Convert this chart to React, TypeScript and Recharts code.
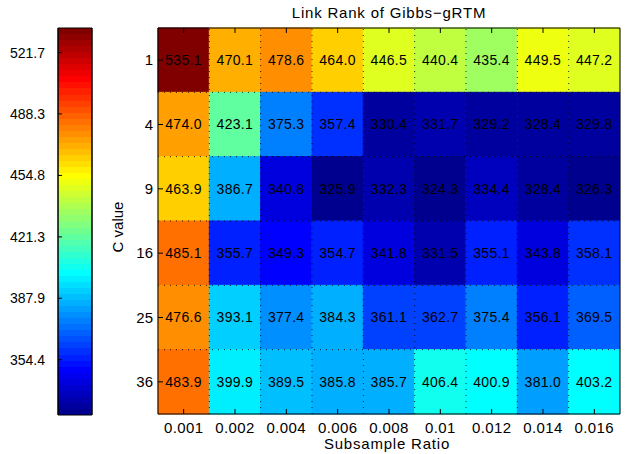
import React from "react";
import { Bar, BarChart, Cell, LabelList, ReferenceLine, XAxis, YAxis } from "recharts";

const ratios = ["0.001", "0.002", "0.004", "0.006", "0.008", "0.01", "0.012", "0.014", "0.016"];
const cValues = ["1", "4", "9", "16", "25", "36"];

const rankC1 = [535.1, 470.1, 478.6, 464.0, 446.5, 440.4, 435.4, 449.5, 447.2];
const rankC4 = [474.0, 423.1, 375.3, 357.4, 330.4, 331.7, 329.2, 328.4, 329.8];
const rankC9 = [463.9, 386.7, 340.8, 325.9, 332.3, 324.3, 334.4, 328.4, 326.3];
const rankC16 = [485.1, 355.7, 349.3, 354.7, 341.8, 331.5, 355.1, 343.8, 358.1];
const rankC25 = [476.6, 393.1, 377.4, 384.3, 361.1, 362.7, 375.4, 356.1, 369.5];
const rankC36 = [483.9, 399.9, 389.5, 385.8, 385.7, 406.4, 400.9, 381.0, 403.2];
const rankRows = [rankC1, rankC4, rankC9, rankC16, rankC25, rankC36];

const colorTicks = [354.4, 387.9, 421.3, 454.8, 488.3, 521.7];
const cMin = 324.3;
const cMax = 535.1;

const FONT = "'Liberation Sans', Arial, Helvetica, sans-serif";

// matlab jet(64), i = 1..64
function jet(i: number) {
  const r = i <= 24 ? 0 : i <= 40 ? (i - 24) / 16 : i <= 56 ? 1 : (72 - i) / 16;
  const g = i <= 8 ? 0 : i <= 24 ? (i - 8) / 16 : i <= 40 ? 1 : i <= 56 ? (56 - i) / 16 : 0;
  const b = i <= 8 ? (i + 8) / 16 : i <= 24 ? 1 : i <= 40 ? (40 - i) / 16 : 0;
  const h = (v: number) => Math.round(v * 255);
  return `rgb(${h(r)},${h(g)},${h(b)})`;
}

function colorFor(v: number) {
  const i = Math.min(64, Math.floor(((v - cMin) / (cMax - cMin)) * 64) + 1);
  return jet(Math.max(1, i));
}

const table = ratios.map((ratio, i) => {
  const row: Record<string, string | number> = { ratio };
  rankRows.forEach((vals, j) => {
    row[`c${j}`] = 1;
    row[`v${j}`] = vals[i];
  });
  return row;
});

const rowTicks = cValues.map((_, j) => j + 0.5);

const BottomTick = ({ x, y, payload }: any) => (
  <g>
    <line x1={x} x2={x} y1={y} y2={y - 5} stroke="#000" />
    <text x={x} y={y + 19} textAnchor="middle" fontSize={15} fill="#000" style={{ letterSpacing: 0.4 }}>
      {payload.value}
    </text>
  </g>
);

const TopTick = ({ x, y }: any) => <line x1={x} x2={x} y1={y} y2={y + 5} stroke="#000" />;

const LeftTick = ({ x, y, payload }: any) => (
  <g>
    <line x1={x} x2={x + 5} y1={y} y2={y} stroke="#000" />
    <text x={x - 5} y={y + 5} textAnchor="end" fontSize={15} fill="#000">
      {cValues[Math.floor(payload.value)]}
    </text>
  </g>
);

const RightTick = ({ x, y }: any) => <line x1={x} x2={x - 5} y1={y} y2={y} stroke="#000" />;

const BarLeftTick = ({ x, y, payload }: any) => (
  <g>
    <line x1={x} x2={x + 4} y1={y} y2={y} stroke="#000" />
    <text x={x - 13} y={y + 5} textAnchor="end" fontSize={14} fill="#000">
      {payload.value.toFixed(1)}
    </text>
  </g>
);

const BarRightTick = ({ x, y }: any) => <line x1={x} x2={x - 4} y1={y} y2={y} stroke="#000" />;

export default function App() {
  const stops: React.ReactNode[] = [];
  for (let i = 1; i <= 64; i++) {
    stops.push(<stop key={`a${i}`} offset={(i - 1) / 64} stopColor={jet(i)} />);
    stops.push(<stop key={`b${i}`} offset={i / 64} stopColor={jet(i)} />);
  }

  return (
    <div style={{ position: "absolute", left: 0, top: 0, width: 631, height: 454, background: "#fff", fontFamily: FONT }}>
      <div
        style={{
          position: "absolute",
          left: 158,
          top: 4,
          width: 462,
          textAlign: "center",
          fontSize: 15,
          lineHeight: "18px",
          letterSpacing: 0.8,
          color: "#000",
        }}
      >
        Link Rank of Gibbs−gRTM
      </div>

      <div style={{ position: "absolute", left: 0, top: 0 }}>
        <BarChart
          width={93}
          height={454}
          data={[{ name: "cb", span: [cMin, cMax] }]}
          margin={{ top: 28, right: 0, bottom: 39, left: 0 }}
          barCategoryGap={0}
        >
          <defs>
            <linearGradient id="jetGrad" x1="0" y1="1" x2="0" y2="0">
              {stops}
            </linearGradient>
          </defs>
          <XAxis dataKey="name" hide />
          <YAxis
            type="number"
            domain={[cMin, cMax]}
            ticks={colorTicks}
            width={58}
            tickSize={0}
            tickMargin={0}
            tickLine={false}
            axisLine={{ stroke: "#000" }}
            tick={BarLeftTick}
            interval={0}
          />
          <YAxis
            yAxisId="r"
            orientation="right"
            type="number"
            domain={[cMin, cMax]}
            ticks={colorTicks}
            width={1}
            tickSize={0}
            tickMargin={0}
            tickLine={false}
            axisLine={{ stroke: "#000" }}
            tick={BarRightTick}
            interval={0}
          />
          <Bar dataKey="span" fill="url(#jetGrad)" stroke="#000" isAnimationActive={false} />
        </BarChart>
      </div>

      <div style={{ position: "absolute", left: 0, top: 0 }}>
        <BarChart
          width={631}
          height={454}
          data={table}
          margin={{ top: 27, right: 10, bottom: 0, left: 118 }}
          barCategoryGap={0}
          barGap={0}
        >
          <XAxis
            dataKey="ratio"
            height={40}
            interval={0}
            tickSize={0}
            tickMargin={0}
            tickLine={false}
            axisLine={{ stroke: "#000" }}
            tick={BottomTick}
            label={(p: any) => (
              <text
                x={p.viewBox.x + p.viewBox.width / 2 - 2}
                y={p.viewBox.y + 35}
                textAnchor="middle"
                fontSize={15}
                fill="#000"
                style={{ letterSpacing: 0.8 }}
              >
                Subsample Ratio
              </text>
            )}
          />
          <XAxis
            xAxisId="top"
            orientation="top"
            dataKey="ratio"
            height={1}
            interval={0}
            tickSize={0}
            tickMargin={0}
            tickLine={false}
            axisLine={{ stroke: "#000" }}
            tick={TopTick}
          />
          <YAxis
            type="number"
            domain={[0, cValues.length]}
            reversed
            ticks={rowTicks}
            width={40}
            interval={0}
            tickSize={0}
            tickMargin={0}
            tickLine={false}
            axisLine={{ stroke: "#000" }}
            tick={LeftTick}
            label={(p: any) => {
              const cx = p.viewBox.x + 5;
              const cy = p.viewBox.y + p.viewBox.height / 2 + 6;
              return (
                <text x={cx} y={cy} transform={`rotate(-90, ${cx}, ${cy})`} textAnchor="middle" fontSize={15} fill="#000">
                  C value
                </text>
              );
            }}
          />
          <YAxis
            yAxisId="right"
            orientation="right"
            type="number"
            domain={[0, cValues.length]}
            reversed
            ticks={rowTicks}
            width={1}
            interval={0}
            tickSize={0}
            tickMargin={0}
            tickLine={false}
            axisLine={{ stroke: "#000" }}
            tick={RightTick}
          />
          {cValues.map((c, j) => (
            <Bar key={c} dataKey={`c${j}`} stackId="cells" isAnimationActive={false}>
              {table.map((d) => {
                const col = colorFor(d[`v${j}`] as number);
                return <Cell key={`${c}-${d.ratio}`} fill={col} stroke={col} strokeWidth={1} />;
              })}
              <LabelList
                dataKey={`v${j}`}
                position="center"
                fill="#000"
                fontSize={14}
                style={{ letterSpacing: 0.3 }}
                formatter={(v: any) => Number(v).toFixed(1)}
              />
            </Bar>
          ))}
          {ratios.slice(1).map((r) => (
            <ReferenceLine key={`vx${r}`} x={r} position="start" stroke="#000" strokeOpacity={0.8} strokeDasharray="1 5" />
          ))}
          {cValues.slice(1).map((c, j) => (
            <ReferenceLine key={`hy${c}`} y={j + 1} stroke="#000" strokeOpacity={0.8} strokeDasharray="1 5" />
          ))}
        </BarChart>
      </div>
    </div>
  );
}
